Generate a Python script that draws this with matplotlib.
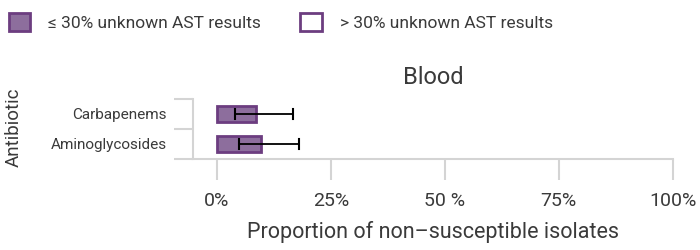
import numpy as np
import matplotlib.pyplot as plt
from matplotlib.patches import Patch

antibiotics = ["Aminoglycosides", "Carbapenems"]
proportion = [9.65, 8.55]
ci_low = [4.9, 3.9]
ci_high = [18.0, 16.6]
xticks = [0, 25, 50, 75, 100]
xticklabels = ["0%", "25%", "50 %", "75%", "100%"]

plt.rcParams['font.family'] = ['Roboto', 'DejaVu Sans']
txt = '#3a3a3a'
grey = '#d4d4d4'
fill = '#8d6e9d'
edge = '#6c3d80'

fig = plt.figure(figsize=(7, 2.5), dpi=100)
ax = fig.add_axes([0.276, 0.364, 0.685, 0.24])

y = np.arange(len(antibiotics))
ax.barh(y, proportion, height=0.52, color=fill, edgecolor=edge, linewidth=2)
# error bars with caps on both ends
for yi, lo, hi in zip(y, ci_low, ci_high):
    ax.plot([lo, hi], [yi, yi], color='black', lw=1.3)
    ax.plot([lo, lo], [yi - 0.18, yi + 0.18], color='black', lw=1.5)
    ax.plot([hi, hi], [yi - 0.18, yi + 0.18], color='black', lw=1.5)

ax.set_xlim(-5.2, 100)
ax.set_ylim(-0.5, 1.5)
for s in ['top', 'right']:
    ax.spines[s].set_visible(False)
for s in ['left', 'bottom']:
    ax.spines[s].set_color(grey)
    ax.spines[s].set_linewidth(1.5)

ax.set_xticks(xticks)
ax.set_xticklabels(xticklabels, fontsize=14, color=txt)
ax.tick_params(axis='x', length=15, width=1.5, color=grey, pad=9)

ax.set_yticks([-0.5, 0.5, 1.5])
ax.set_yticklabels([])
ax.tick_params(axis='y', which='major', length=14, width=1.5, color=grey)
ax.set_yticks(y, minor=True)
ax.set_yticklabels(antibiotics, minor=True, fontsize=11, color=txt)
ax.tick_params(axis='y', which='minor', length=0, pad=19)

ax.set_title("Blood", fontsize=17, color=txt, pad=11)
ax.set_xlabel("Proportion of non\u2013susceptible isolates", fontsize=15.5, color=txt, labelpad=8)
fig.text(0.019, 0.49, "Antibiotic", rotation=90, fontsize=13.5, color=txt, ha='center', va='center')

handles = [Patch(facecolor=fill, edgecolor=edge, linewidth=2),
           Patch(facecolor='white', edgecolor=edge, linewidth=2)]
fig.legend(handles, ["\u2264 30% unknown AST results", "> 30% unknown AST results"],
           loc='upper left', bbox_to_anchor=(-0.01, 1.01), ncol=2, frameon=False,
           fontsize=12.5, handlelength=1.25, handleheight=1.25, columnspacing=2.3,
           handletextpad=1.0, labelcolor=txt)

fig.savefig("out.png", dpi=100)
